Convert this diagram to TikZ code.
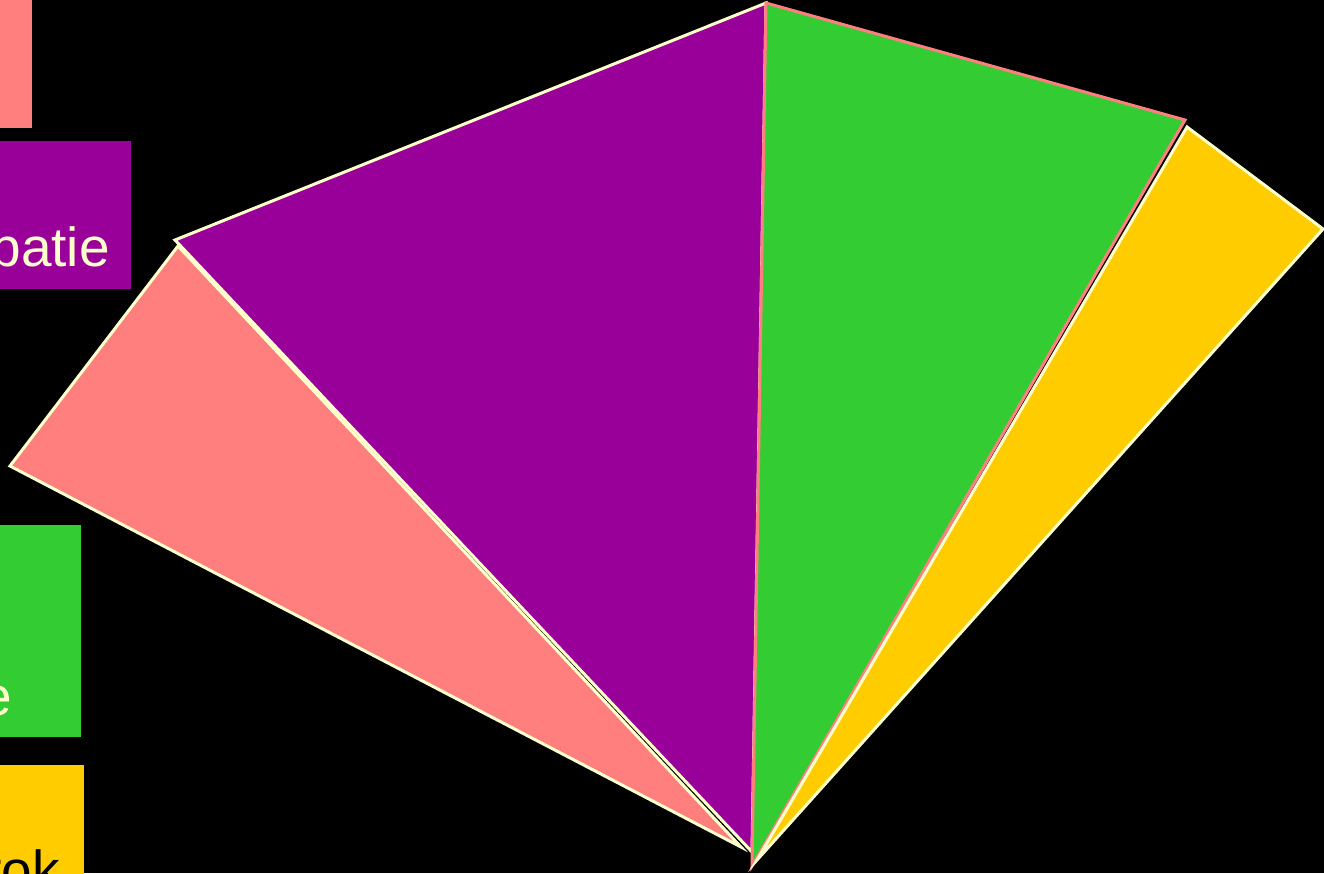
\documentclass[tikz,border=0pt]{standalone}
\usepackage{fontspec}
\setmainfont{Liberation Sans}
\usepackage{xcolor}
\definecolor{wedgepink}{HTML}{FF7F7F}
\definecolor{wedgepurple}{HTML}{990099}
\definecolor{wedgegreen}{HTML}{33CC33}
\definecolor{wedgeyellow}{HTML}{FFCC00}
\definecolor{cream}{HTML}{FFFFCC}
\tikzset{
  wedge/.style = {fill=#1, line width=3pt, line join=miter},
  keybox/.style = {fill=#1, draw=none},
  keytext/.style = {anchor=base east, inner sep=0pt,
    font=\fontsize{55}{62}\selectfont}
}

\begin{document}
\begin{tikzpicture}[x=1pt, y=-1pt]

  \fill[black] (0,0) rectangle (1324,873);
  \useasboundingbox (0,0) rectangle (1324,873);

  % legend boxes, cut off at the left edge
  \foreach \col/\top/\bot/\wd in {wedgepink/0/128/32, wedgepurple/141/289/131,
                                  wedgegreen/525/737/81, wedgeyellow/765/900/84}{
     \fill[keybox=\col] (-20,\top) rectangle (\wd,\bot);
  }
  \node[keytext, text=cream] (keypurple) at (110,266) {patie};
  \node[keytext, text=cream] (keygreen)  at (12,715)  {e};
  \node[keytext, text=black] (keyyellow) at (60,889)  {rok};

  % the wedges
  \foreach \col/\edge/\apex/\pa/\pb in {
      wedgepink/cream/{741,847}/{10,466}/{178,246},
      wedgepurple/cream/{752,852}/{175,240}/{766,3},
      wedgegreen/wedgepink/{752,866}/{766,3}/{1185,120},
      wedgeyellow/cream/{757,860}/{1187,127}/{1323,229}}{
     \draw[wedge=\col, draw=\edge] (\apex) -- (\pa) -- (\pb) -- cycle;
  }

\end{tikzpicture}
\end{document}
